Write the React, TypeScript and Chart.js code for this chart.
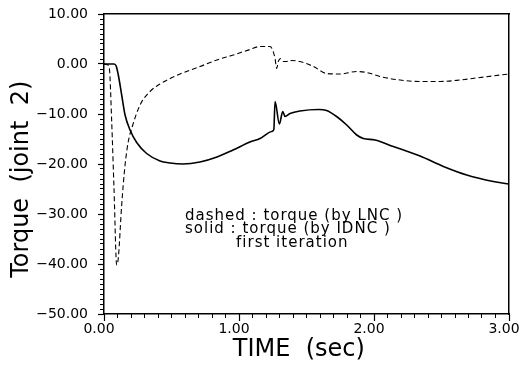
import React, { useEffect, useRef } from 'react';
import { Chart, registerables } from 'chart.js';

Chart.register(...registerables);

// ---- data ----
const solidTime = [0, 0.075, 0.09, 0.106, 0.131, 0.156, 0.193, 0.242, 0.316, 0.415, 0.489, 0.585, 0.711, 0.837, 0.956, 1.081, 1.156, 1.242, 1.258, 1.267, 1.299, 1.324, 1.341, 1.378, 1.452, 1.588, 1.649, 1.723, 1.798, 1.872, 1.921, 2.007, 2.143, 2.341, 2.514, 2.687, 2.884, 3.0];
const solidTorque = [0, 0, -0.4, -2.2, -6.2, -10.2, -13.2, -15.7, -17.9, -19.4, -19.8, -20.0, -19.6, -18.6, -17.2, -15.6, -14.9, -13.5, -13.1, -7.5, -12.0, -9.5, -10.5, -9.9, -9.4, -9.1, -9.3, -10.5, -12.2, -14.2, -14.9, -15.2, -16.5, -18.4, -20.5, -22.2, -23.5, -24.0];

const dashedTime = [0, 0.03, 0.04, 0.057, 0.074, 0.094, 0.106, 0.131, 0.156, 0.18, 0.205, 0.267, 0.341, 0.415, 0.563, 0.711, 0.835, 0.958, 1.081, 1.156, 1.23, 1.249, 1.267, 1.279, 1.291, 1.309, 1.328, 1.353, 1.39, 1.452, 1.551, 1.649, 1.748, 1.872, 1.946, 2.044, 2.193, 2.341, 2.489, 2.637, 2.785, 3.0];
const dashedTorque = [0, -0.2, -0.9, -11.5, -24.8, -40.2, -38.8, -28.2, -20.2, -15.5, -12.9, -8.2, -5.5, -4.0, -2.0, -0.5, 0.8, 1.8, 2.9, 3.5, 3.5, 2.8, 1.1, -0.9, 0.5, 1.1, 0.5, 0.5, 0.7, 0.5, -0.5, -1.9, -2.0, -1.5, -1.7, -2.5, -3.2, -3.5, -3.5, -3.2, -2.7, -2.0];

const xMajorTicks = [0, 1, 2, 3];
const yMajorTicks = [10, 0, -10, -20, -30, -40, -50];

const annotationLines = [
  'dashed : torque (by LNC )',
  'solid : torque (by IDNC )',
  'first iteration',
];
// anchor of each annotation line in data units [time, torque]
const annotationAnchors = [
  [0.6, -31.2],
  [0.6, -33.8],
  [0.978, -36.6],
];

const xTitle = 'TIME  (sec)  ';
const yTitle = 'Torque  (joint  2)    ';

const FONT = '"DejaVu Sans", sans-serif';

const fmt = (v: number) => v.toFixed(2).replace('-', '\u2212');

const annotationPlugin = {
  id: 'annotationText',
  afterDatasetsDraw(chart: any) {
    const { ctx } = chart;
    const xs = chart.scales.x;
    const ys = chart.scales.y;
    ctx.save();
    ctx.fillStyle = '#000';
    ctx.font = `15px ${FONT}`;
    ctx.textAlign = 'left';
    ctx.textBaseline = 'alphabetic';
    try { (ctx as any).letterSpacing = '1px'; } catch (e) {}
    annotationLines.forEach((t, i) => {
      const [tx, ty] = annotationAnchors[i];
      ctx.fillText(t, xs.getPixelForValue(tx), ys.getPixelForValue(ty));
    });
    try { (ctx as any).letterSpacing = '0px'; } catch (e) {}
    ctx.restore();
  },
};

export default function App() {
  const ref = useRef<HTMLCanvasElement | null>(null);

  useEffect(() => {
    if (!ref.current) return;
    const chart = new Chart(ref.current, {
      type: 'line',
      data: {
        datasets: [
          {
            label: 'solid : torque (by IDNC)',
            data: solidTime.map((t, i) => ({ x: t, y: solidTorque[i] })),
            borderColor: '#000',
            borderWidth: 1.6,
            pointRadius: 0,
            cubicInterpolationMode: 'monotone',
            xAxisID: 'x',
            yAxisID: 'y',
          },
          {
            label: 'dashed : torque (by LNC)',
            data: dashedTime.map((t, i) => ({ x: t, y: dashedTorque[i] })),
            borderColor: '#000',
            borderWidth: 1.1,
            borderDash: [5, 3],
            pointRadius: 0,
            cubicInterpolationMode: 'monotone',
            xAxisID: 'x',
            yAxisID: 'y',
          },
        ],
      },
      options: {
        animation: false,
        responsive: false,
        devicePixelRatio: 1,
        layout: { padding: { left: 0, right: 11, top: 14, bottom: 0 } },
        plugins: { legend: { display: false }, tooltip: { enabled: false } },
        scales: {
          xMinor: {
            type: 'linear', position: 'bottom', weight: 0,
            min: 0, max: 3,
            ticks: { display: false, stepSize: 0.1, maxTicksLimit: 1000, autoSkip: false },
            grid: { drawOnChartArea: false, drawTicks: true, tickLength: 4, tickColor: '#000', tickWidth: 1 },
            border: { display: false },
            afterFit: (s: any) => { s.height = 0; s.paddingLeft = 0; s.paddingRight = 0; },
          },
          x: {
            type: 'linear', position: 'bottom', weight: 1,
            min: 0, max: 3,
            afterBuildTicks: (s: any) => { s.ticks = xMajorTicks.map((v) => ({ value: v })); },
            ticks: {
              callback: (v: any) => fmt(Number(v)),
              color: '#000', font: { family: FONT, size: 14 }, padding: 0, labelOffset: -5,
              maxRotation: 0, autoSkip: false,
            },
            grid: { drawOnChartArea: false, drawTicks: true, tickLength: 7, tickColor: '#000', tickWidth: 1.2 },
            border: { display: true, color: '#000', width: 1.5 },
            title: {
              display: true, text: xTitle, color: '#000',
              font: { family: FONT, size: 24 }, padding: { top: 0, bottom: 5 },
            },
            afterFit: (s: any) => { s.height = 55; s.paddingLeft = 0; s.paddingRight = 0; },
          },
          xTop: {
            type: 'linear', position: 'top', min: 0, max: 3,
            ticks: { display: false },
            grid: { drawOnChartArea: false, drawTicks: false },
            border: { display: true, color: '#000', width: 1.5 },
            afterFit: (s: any) => { s.height = 0; s.paddingLeft = 0; s.paddingRight = 0; },
          },
          yMinor: {
            type: 'linear', position: 'left', weight: 0,
            min: -50, max: 10,
            ticks: { display: false, stepSize: 1, maxTicksLimit: 1000, autoSkip: false },
            grid: { drawOnChartArea: false, drawTicks: true, tickLength: 4, tickColor: '#000', tickWidth: 1 },
            border: { display: false },
            afterFit: (s: any) => { s.width = 0; s.paddingTop = 0; s.paddingBottom = 0; },
          },
          y: {
            type: 'linear', position: 'left', weight: 1,
            min: -50, max: 10,
            afterBuildTicks: (s: any) => { s.ticks = yMajorTicks.slice().reverse().map((v) => ({ value: v })); },
            ticks: {
              callback: (v: any) => fmt(Number(v)),
              color: '#000', font: { family: FONT, size: 14 }, padding: 10, autoSkip: false,
            },
            grid: { drawOnChartArea: false, drawTicks: true, tickLength: 6, tickColor: '#000', tickWidth: 1.2 },
            border: { display: true, color: '#000', width: 1.5 },
            title: {
              display: true, text: yTitle, color: '#000',
              font: { family: FONT, size: 24 }, padding: { top: 7, bottom: 0 },
            },
            afterFit: (s: any) => { s.width = 104; s.paddingTop = 0; s.paddingBottom = 0; },
          },
          yRight: {
            type: 'linear', position: 'right', min: -50, max: 10,
            ticks: { display: false },
            grid: { drawOnChartArea: false, drawTicks: false },
            border: { display: true, color: '#000', width: 1.5 },
            afterFit: (s: any) => { s.width = 0; s.paddingTop = 0; s.paddingBottom = 0; },
          },
        },
      } as any,
      plugins: [annotationPlugin],
    });
    return () => chart.destroy();
  }, []);

  return (
    <div style={{ position: 'absolute', left: 0, top: 0, width: 520, height: 369, background: '#fff' }}>
      <canvas ref={ref} width={520} height={369} style={{ display: 'block', width: 520, height: 369 }} />
    </div>
  );
}
